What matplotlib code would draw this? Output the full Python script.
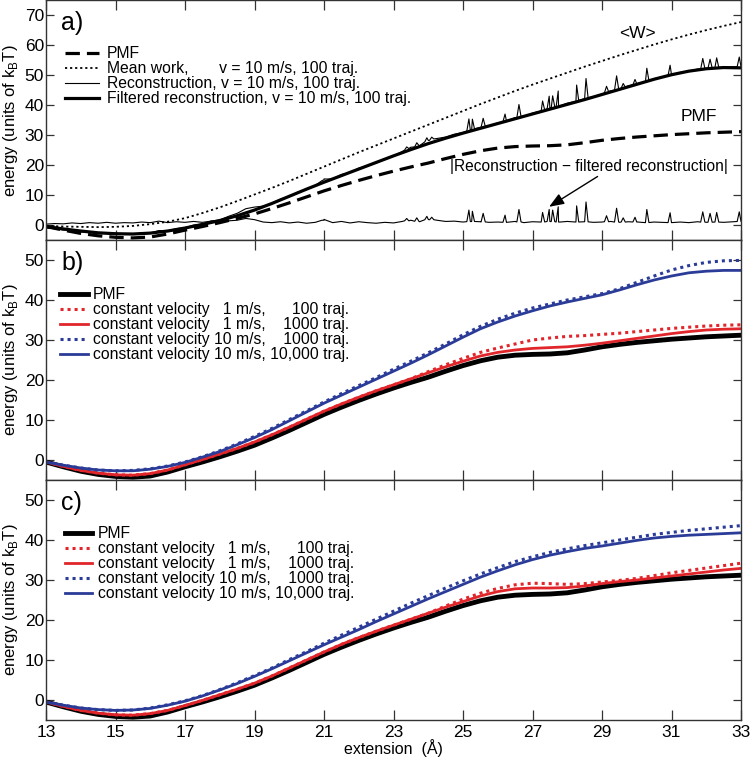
import matplotlib
matplotlib.use("Agg")
import matplotlib.pyplot as plt
from matplotlib.lines import Line2D
import numpy as np

plt.rcParams['font.family'] = ['Liberation Sans', 'DejaVu Sans']
plt.rcParams['mathtext.fontset'] = 'custom'
plt.rcParams['mathtext.rm'] = 'Liberation Sans'

# extension grid (Å)
ext = np.arange(13, 33.01, 0.5)

# PMF (same in all panels)
pmf = [-0.5, -1.7, -2.8, -3.6, -4.1, -4.3, -4.0, -3.0, -1.7, -0.5, 0.8, 2.2, 3.7, 5.5, 7.4, 9.4,
       11.4, 13.2, 14.9, 16.5, 18.0, 19.4, 20.7, 22.2, 23.6, 24.8, 25.7, 26.2, 26.4, 26.5, 26.8,
       27.5, 28.3, 28.9, 29.4, 29.8, 30.2, 30.5, 30.8, 31.0, 31.2]

# panel a
mean_work = [-0.3, -0.5, -0.6, -0.7, -0.6, -0.3, 0.3, 1.1, 2.3, 4.0, 5.9, 8.0, 10.2, 12.4, 14.7,
             17.1, 19.5, 21.9, 24.3, 26.6, 28.9, 31.2, 33.5, 35.8, 38.1, 40.4, 42.6, 44.8, 46.9,
             48.9, 50.9, 52.9, 54.8, 56.7, 58.5, 60.3, 62.0, 63.6, 65.1, 66.5, 67.8]
filtered = [-0.5, -1.3, -2.0, -2.6, -2.9, -3.0, -2.7, -2.0, -1.0, 0.2, 1.5, 3.1, 5.0, 7.2, 9.6,
            12.0, 14.3, 16.5, 18.7, 20.9, 23.1, 25.2, 27.2, 29.0, 30.7, 32.3, 33.9, 35.5, 37.1,
            38.7, 40.3, 41.9, 43.6, 45.3, 47.0, 48.7, 50.2, 51.4, 52.2, 52.6, 52.5]

# |reconstruction - filtered reconstruction|: baseline every 0.25 Å + spikes
diff_base_x = np.arange(13, 33.01, 0.25)
diff_base = [0.3, 0.5, 0.4, 0.7, 0.5, 0.8, 0.6, 0.9, 0.6, 0.8, 0.7, 1.0, 0.8, 1.3, 0.8, 1.1,
             0.9, 1.2, 0.9, 1.3, 1.0, 1.4, 1.6, 2.2, 1.8, 1.0, 0.8, 1.1, 0.7, 1.0, 0.6, 0.9,
             1.6, 0.8, 1.2, 0.7, 1.1, 0.8, 0.6, 0.9, 0.7, 1.2, 1.6, 1.1, 1.9, 1.6, 1.2, 1.3,
             1.0, 1.2, 1.1, 0.9, 1.0, 0.9, 1.2, 0.8, 1.1, 1.0, 1.2, 1.0, 1.2, 1.0, 1.1, 0.9,
             1.0, 1.2, 0.9, 1.1, 1.0, 0.8, 1.0, 0.9, 0.8, 1.0, 0.8, 1.1, 0.9, 1.0, 0.9, 1.1, 1.2]
spike_x = [21.0, 23.38, 23.67, 23.96, 24.1, 25.17, 25.27, 25.58, 26.21, 26.61, 27.29, 27.48,
           27.58, 27.74, 28.27, 28.54, 29.13, 29.42, 29.61, 29.95, 30.29, 30.96, 31.9, 32.11,
           32.3, 32.95]
spike_h = [1.9, 2.2, 2.4, 2.9, 2.6, 5.0, 4.6, 3.9, 3.3, 5.2, 4.2, 5.2, 5.0, 6.1, 6.4, 7.7,
           3.1, 5.6, 2.4, 2.6, 5.2, 4.1, 4.4, 3.9, 4.2, 4.4]

# panel b
red1_b = [-0.5, -1.6, -2.6, -3.3, -3.7, -3.8, -3.4, -2.5, -1.2, 0.1, 1.5, 2.9, 4.5, 6.3, 8.2,
          10.2, 12.2, 14.0, 15.7, 17.3, 18.8, 20.3, 22.1, 23.8, 25.4, 26.9, 28.0, 29.0, 30.0,
          30.5, 30.9, 31.1, 31.4, 31.7, 32.1, 32.5, 32.9, 33.2, 33.5, 33.7, 33.8]
red2_b = [-0.5, -1.6, -2.6, -3.3, -3.7, -3.8, -3.4, -2.5, -1.2, 0.1, 1.5, 2.9, 4.5, 6.3, 8.2,
          10.2, 12.2, 14.0, 15.7, 17.3, 18.8, 20.3, 21.8, 23.3, 24.7, 26.0, 26.9, 27.5, 27.9,
          28.1, 28.3, 28.7, 29.2, 29.8, 30.4, 31.0, 31.6, 32.1, 32.5, 32.7, 32.8]
blue1_b = [-0.5, -1.3, -2.0, -2.5, -2.7, -2.6, -2.2, -1.5, -0.5, 0.8, 2.3, 4.0, 5.9, 7.9, 10.1,
           12.3, 14.5, 16.6, 18.6, 20.6, 22.7, 24.7, 26.8, 29.0, 31.3, 33.4, 35.2, 36.7, 38.0,
           39.0, 40.0, 40.8, 41.6, 42.8, 44.4, 46.0, 47.5, 48.6, 49.4, 49.8, 49.9]
blue2_b = [-0.5, -1.3, -2.0, -2.5, -2.7, -2.7, -2.3, -1.6, -0.6, 0.7, 2.1, 3.8, 5.6, 7.6, 9.8,
           12.0, 14.2, 16.2, 18.2, 20.2, 22.2, 24.2, 26.3, 28.5, 30.7, 32.8, 34.5, 36.0, 37.3,
           38.5, 39.5, 40.4, 41.3, 42.5, 43.8, 45.0, 46.0, 46.8, 47.2, 47.4, 47.4]

# panel c
red1_c = [-0.5, -1.6, -2.6, -3.3, -3.7, -3.8, -3.4, -2.6, -1.4, -0.1, 1.3, 2.7, 4.2, 6.0, 8.0,
          10.0, 12.0, 13.9, 15.6, 17.2, 18.7, 20.2, 21.7, 23.5, 25.2, 26.7, 27.9, 28.8, 29.2,
          29.1, 28.9, 29.1, 29.5, 29.9, 30.4, 31.1, 31.8, 32.4, 33.0, 33.6, 34.2]
red2_c = [-0.5, -1.6, -2.6, -3.3, -3.7, -3.8, -3.4, -2.6, -1.4, -0.1, 1.3, 2.7, 4.2, 6.0, 8.0,
          10.0, 12.0, 13.9, 15.6, 17.2, 18.7, 20.2, 21.7, 23.2, 24.6, 26.0, 27.1, 27.8, 28.0,
          28.0, 28.1, 28.5, 29.1, 29.6, 30.0, 30.5, 31.0, 31.5, 32.0, 32.5, 32.9]
blue1_c = [-0.5, -1.3, -2.0, -2.4, -2.6, -2.5, -2.0, -1.2, -0.2, 1.1, 2.6, 4.3, 6.1, 8.0, 10.1,
           12.1, 14.2, 16.2, 18.2, 20.2, 22.2, 24.2, 26.1, 28.0, 29.8, 31.5, 33.1, 34.6, 35.8,
           36.9, 37.8, 38.6, 39.3, 40.0, 40.7, 41.4, 41.9, 42.4, 42.8, 43.2, 43.6]
blue2_c = [-0.5, -1.3, -2.0, -2.4, -2.6, -2.5, -2.1, -1.3, -0.3, 1.0, 2.5, 4.1, 5.9, 7.8, 9.8,
           11.8, 13.8, 15.7, 17.6, 19.6, 21.5, 23.4, 25.3, 27.1, 28.9, 30.7, 32.3, 33.8, 35.1,
           36.2, 37.1, 37.9, 38.5, 39.2, 39.9, 40.5, 40.9, 41.2, 41.4, 41.6, 41.8]

labels_bc = ['PMF',
             'constant velocity   1 m/s,      100 traj.',
             'constant velocity   1 m/s,    1000 traj.',
             'constant velocity 10 m/s,    1000 traj.',
             'constant velocity 10 m/s, 10,000 traj.']

RED = '#e0262b'
BLUE = '#2b3b98'
SPINE = '#333333'
LEG_FS = 11.3

# build |difference| polyline from baseline and spikes
pts = list(zip(diff_base_x, diff_base))
for sx, sh in zip(spike_x, spike_h):
    b = np.interp(sx, diff_base_x, diff_base)
    pts += [(sx - 0.06, b), (sx, sh), (sx + 0.06, b)]
pts.sort()
diff_x = np.array([p[0] for p in pts])
diff_y = np.array([p[1] for p in pts])
recon_y = np.interp(diff_x, ext, filtered) + diff_y - 0.8

fig = plt.figure(figsize=(7.5, 7.59), dpi=100)
L, W, H = 46 / 750, 695 / 750, 240 / 759
ax_a = fig.add_axes([L, 519 / 759, W, 239.5 / 759])
ax_b = fig.add_axes([L, 279 / 759, W, H])
ax_c = fig.add_axes([L, 39 / 759, W, H])

# a)
ax_a.plot(diff_x, diff_y, color='black', lw=0.8)
ax_a.plot(diff_x, recon_y, color='black', lw=0.8)
ax_a.plot(ext, filtered, color='black', lw=2.3)
ax_a.plot(ext, mean_work, color='black', lw=1.3, linestyle=(0, (1.2, 1.6)))
ax_a.plot(ext, pmf, color='black', lw=2.3, linestyle=(0, (4.5, 2.2)))
ax_a.text(30.02, 63.9, '<W>', ha='center', va='center', fontsize=12.5)
ax_a.text(31.8, 36.4, 'PMF', ha='center', va='center', fontsize=12.5)
ax_a.text(28.63, 19.4, '|Reconstruction \u2212 filtered reconstruction|', ha='center',
          va='center', fontsize=11.2)
ax_a.annotate('', xy=(27.41, 5.6), xytext=(28.94, 16.7),
              arrowprops=dict(arrowstyle='-|>,head_length=0.9,head_width=0.35', color='black', lw=1.0))
handles_a = [Line2D([], [], color='black', lw=2.3, linestyle=(0, (4.5, 2.2))),
             Line2D([], [], color='black', lw=1.3, linestyle=(0, (1.2, 1.6))),
             Line2D([], [], color='black', lw=0.8),
             Line2D([], [], color='black', lw=2.3)]
labels_a = ['PMF',
            'Mean work,       v = 10 m/s, 100 traj.',
            'Reconstruction, v = 10 m/s, 100 traj.',
            'Filtered reconstruction, v = 10 m/s, 100 traj.']
ax_a.legend(handles_a, labels_a, loc='upper left', bbox_to_anchor=(0.027, 0.808), frameon=False,
            borderpad=0, borderaxespad=0, handlelength=2.2, handletextpad=0.5,
            labelspacing=0.0, fontsize=LEG_FS)
ax_a.set_ylim(-5, 75)
ax_a.set_yticks(np.arange(0, 71, 10))


def panel(ax, r1, r2, b1, b2, anchor, hl, pad):
    ax.plot(ext, pmf, color='black', lw=3.5, label=labels_bc[0])
    ax.plot(ext, r2, color=RED, lw=2.0, label=labels_bc[2])
    ax.plot(ext, r1, color=RED, lw=2.2, linestyle=(0, (1, 1.3)), label=labels_bc[1])
    ax.plot(ext, b2, color=BLUE, lw=2.0, label=labels_bc[4])
    ax.plot(ext, b1, color=BLUE, lw=2.2, linestyle=(0, (1, 1.3)), label=labels_bc[3])
    h, l = ax.get_legend_handles_labels()
    order = [0, 2, 1, 4, 3]
    ax.legend([h[i] for i in order], [l[i] for i in order], loc='upper left',
              bbox_to_anchor=anchor, frameon=False, borderpad=0, borderaxespad=0,
              handlelength=hl, handletextpad=pad, labelspacing=0.0, fontsize=LEG_FS)
    ax.set_ylim(-5, 55)
    ax.set_yticks(np.arange(0, 51, 10))


panel(ax_b, red1_b, red2_b, blue1_b, blue2_b, (0.02, 0.804), 1.8, 0.32)
panel(ax_c, red1_c, red2_c, blue1_c, blue2_c, (0.027, 0.808), 1.75, 0.38)

for ax, letter in zip([ax_a, ax_b, ax_c], ['a)', 'b)', 'c)']):
    ax.set_xlim(13, 33)
    ax.set_xticks(np.arange(13, 34, 2))
    ax.tick_params(axis='x', direction='in', top=True, bottom=True, length=7,
                   width=0.9, color=SPINE, labelsize=12.5, labelbottom=(ax is ax_c))
    ax.tick_params(axis='y', direction='in', left=True, right=True, length=6,
                   width=0.9, color=SPINE, labelsize=12.5, pad=1.5)
    for s in ax.spines.values():
        s.set_color(SPINE)
        s.set_linewidth(1.0)
    ax.set_ylabel('energy (units of k$_{\\mathrm{B}}$T)', fontsize=12)
    ax.yaxis.set_label_coords(-0.038, 0.5)
    ax.text(0.022, 0.905, letter, transform=ax.transAxes, fontsize=18, ha='left', va='center')

fig.text(393.5 / 750, 1 - 748 / 759, 'extension  (\u00c5)', fontsize=11.5, ha='center', va='center')

fig.savefig('out.png', dpi=100)
